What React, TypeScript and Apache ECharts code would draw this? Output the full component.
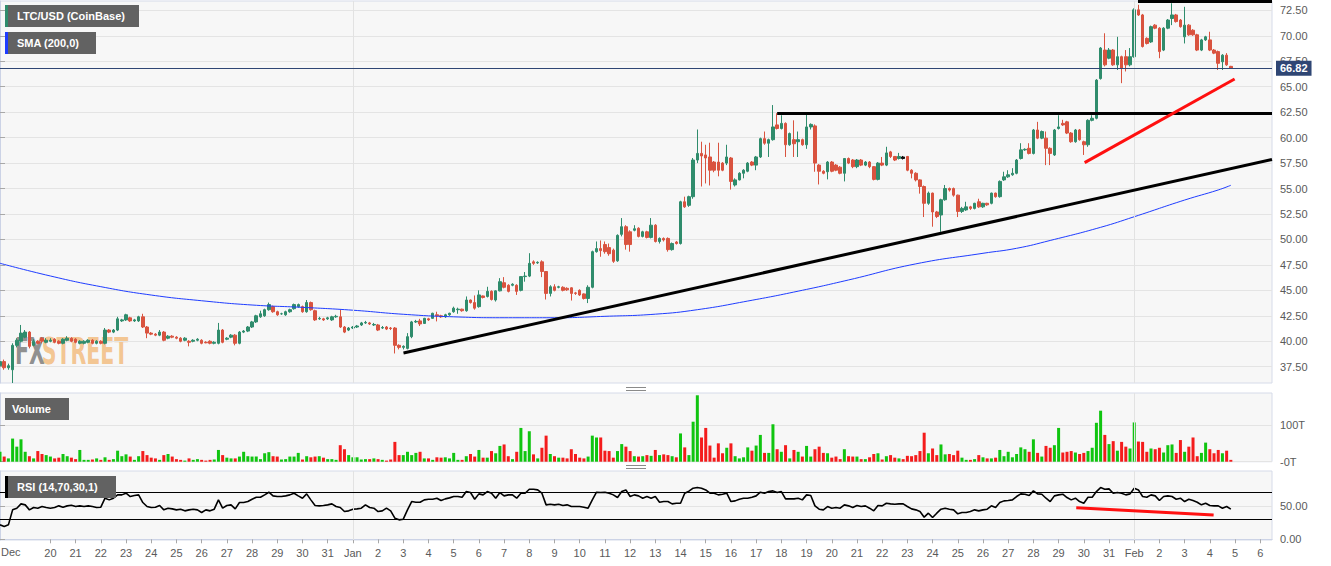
import { useEffect, useRef } from 'react';
import * as echarts from 'echarts';

// ---------- axis ticks / labels ----------
const PRICE_TICKS = [37.5, 40, 42.5, 45, 47.5, 50, 52.5, 55, 57.5, 60, 62.5, 65, 67.5, 70, 72.5];
const VOLUME_TICKS = [0, 100];
const RSI_TICKS = [0, 50];
const RSI_LEVELS = [70, 30];
// day labels from Dec 20 (index 12, one day = 6 four-hour candles)
const X_LABELS = [
  '20', '21', '22', '23', '24', '25', '26', '27', '28', '29', '30', '31',
  'Jan', '2', '3', '4', '5', '6', '7', '8', '9', '10', '11', '12', '13', '14', '15', '16', '17', '18', '19', '20',
  '21', '22', '23', '24', '25', '26', '27', '28', '29', '30', '31',
  'Feb', '2', '3', '4', '5', '6',
];
const FIRST_LABEL_INDEX = 12;
const CANDLES_PER_DAY = 6;
const MONTH_STARTS = [84, 270];
const LAST_PRICE = 66.82;
const DOJI_INDEX = 215;

// ---------- 4h candles: [open, close, low, high] ----------
const OHLC: number[][] = [
  [37.6, 38.0, 37.3, 38.3], [38.0, 37.4, 37.2, 38.2], [37.4, 37.6, 37.2, 37.8], [37.2, 39.6, 35.9, 39.8],
  [39.6, 40.1, 39.4, 40.3], [40.0, 40.8, 39.9, 41.6], [40.4, 40.9, 40.3, 41.1], [40.9, 39.5, 39.3, 41.0],
  [39.6, 40.0, 39.5, 40.2], [40.0, 39.8, 39.7, 40.1], [40.3, 40.0, 39.8, 40.4], [39.9, 40.1, 39.8, 40.3],
  [40.0, 40.1, 39.9, 40.3], [40.2, 39.9, 39.8, 40.3], [40.0, 39.8, 39.7, 40.1], [39.8, 40.2, 39.7, 40.3],
  [40.1, 40.3, 40.0, 40.5], [40.3, 40.0, 39.9, 40.4], [40.2, 39.9, 39.8, 40.3], [39.8, 40.0, 39.7, 40.1],
  [39.8, 40.0, 39.7, 40.1], [39.9, 40.1, 39.8, 40.2], [40.1, 39.8, 39.7, 40.2], [39.8, 40.0, 39.7, 40.1],
  [40.0, 39.8, 39.7, 40.1], [39.8, 41.1, 39.7, 41.3], [41.1, 40.9, 40.8, 41.2], [40.9, 41.1, 40.8, 41.2],
  [41.1, 42.2, 41.0, 42.4], [42.0, 42.1, 41.9, 42.2], [42.1, 42.6, 42.0, 42.7], [42.3, 42.0, 41.9, 42.4],
  [42.0, 42.1, 41.9, 42.2], [42.0, 42.4, 41.9, 42.5], [42.4, 41.4, 41.3, 42.7], [41.4, 40.8, 40.3, 41.5],
  [40.8, 40.7, 40.6, 40.9], [40.7, 40.6, 40.5, 40.8], [40.6, 40.9, 40.5, 41.1], [40.9, 40.1, 40.0, 41.0],
  [40.3, 40.5, 40.2, 40.6], [40.5, 40.4, 40.3, 40.6], [40.4, 40.3, 40.2, 40.5], [40.3, 40.0, 39.9, 40.4],
  [40.1, 40.3, 40.0, 40.4], [40.0, 39.9, 39.5, 40.1], [40.0, 40.1, 39.9, 40.2], [40.1, 40.2, 40.0, 40.3],
  [40.1, 39.8, 39.7, 40.2], [39.9, 39.85, 39.8, 40.0], [40.0, 39.8, 39.7, 40.1], [39.8, 39.9, 39.7, 40.0],
  [39.8, 41.1, 39.7, 41.8], [41.1, 39.9, 39.8, 41.2], [40.2, 40.3, 40.1, 40.4], [40.4, 40.6, 40.3, 40.7],
  [40.6, 39.8, 39.6, 40.7], [39.8, 40.9, 39.7, 41.0], [40.9, 41.0, 40.8, 41.1], [41.0, 41.4, 40.9, 41.5],
  [41.4, 41.9, 41.3, 42.0], [41.9, 42.5, 41.8, 42.6], [42.4, 42.7, 42.3, 43.0], [42.5, 43.1, 42.4, 43.2],
  [43.1, 43.6, 43.0, 43.8], [43.4, 42.9, 42.8, 43.5], [42.9, 42.6, 42.5, 43.0], [42.7, 42.7, 42.6, 42.8],
  [42.6, 42.9, 42.5, 43.0], [42.9, 43.1, 42.8, 43.2], [43.2, 43.6, 43.1, 43.7], [43.4, 43.6, 43.3, 43.7],
  [43.4, 42.9, 42.8, 43.5], [42.9, 43.8, 42.8, 44.05], [43.8, 43.1, 43.0, 43.9], [43.0, 42.1, 42.0, 43.1],
  [42.2, 42.25, 42.1, 42.4], [42.2, 42.1, 42.0, 42.3], [42.2, 42.3, 42.1, 42.4], [42.1, 42.4, 42.0, 42.5],
  [42.4, 42.45, 42.3, 42.6], [42.4, 41.4, 41.3, 43.1], [41.4, 40.9, 40.8, 41.5], [41.1, 41.3, 41.0, 41.4],
  [41.3, 41.4, 41.2, 41.5], [41.4, 41.5, 41.3, 41.6], [41.6, 41.8, 41.5, 41.9], [41.8, 41.85, 41.7, 42.0],
  [41.8, 41.7, 41.6, 41.9], [41.6, 41.65, 41.5, 41.8], [41.6, 41.1, 41.0, 41.7], [41.3, 41.35, 41.2, 41.5],
  [41.4, 41.2, 41.1, 41.5], [41.3, 41.25, 41.1, 41.4], [41.3, 39.6, 38.8, 41.4], [39.6, 39.4, 39.2, 39.7],
  [39.4, 39.5, 39.2, 39.6], [39.3, 40.45, 39.2, 40.8], [40.45, 41.9, 40.3, 42.0], [41.9, 41.95, 41.8, 42.1],
  [42.0, 41.7, 41.5, 42.2], [41.75, 42.25, 41.7, 42.3], [42.2, 42.1, 42.0, 42.3], [42.25, 42.75, 42.2, 42.8],
  [42.6, 42.5, 41.95, 42.9], [42.5, 42.4, 42.3, 42.6], [42.4, 42.6, 42.3, 42.7], [42.6, 42.75, 42.5, 42.8],
  [42.9, 43.25, 42.8, 43.4], [43.1, 43.15, 42.7, 43.3], [43.15, 43.0, 42.9, 43.2], [43.0, 44.05, 42.9, 44.4],
  [44.05, 43.8, 43.7, 44.1], [43.8, 43.25, 43.1, 44.5], [43.4, 44.55, 43.3, 45.0], [44.45, 44.3, 44.2, 44.5],
  [44.4, 44.9, 44.3, 45.35], [44.9, 44.1, 44.0, 45.0], [44.05, 44.95, 43.9, 45.0], [44.95, 45.85, 44.9, 46.2],
  [45.75, 45.3, 45.2, 46.3], [45.5, 44.9, 44.8, 45.6], [45.5, 45.6, 45.4, 45.7], [45.5, 44.9, 44.55, 45.6],
  [45.0, 46.35, 44.9, 46.4], [46.35, 46.4, 45.85, 46.8], [46.4, 47.65, 46.3, 48.65], [47.8, 47.65, 47.5, 47.95],
  [47.7, 47.75, 47.6, 47.85], [47.8, 46.85, 46.3, 47.95], [46.85, 44.7, 44.1, 46.9], [44.7, 45.35, 44.4, 45.5],
  [45.35, 45.0, 44.9, 45.6], [45.3, 45.35, 45.2, 45.45], [45.3, 45.0, 44.9, 45.4], [45.2, 45.05, 44.95, 45.3],
  [45.25, 44.7, 44.0, 45.3], [44.75, 44.7, 44.55, 44.85], [45.0, 44.55, 44.45, 45.1], [44.65, 44.2, 44.1, 44.7],
  [44.2, 45.3, 43.75, 45.5], [45.3, 48.8, 45.2, 48.9], [48.8, 49.1, 48.7, 49.8], [49.1, 48.9, 48.3, 49.9],
  [49.5, 48.8, 48.6, 49.8], [49.2, 48.6, 48.4, 49.6], [48.95, 47.85, 47.7, 49.1], [47.9, 50.4, 47.8, 50.5],
  [50.5, 51.25, 50.3, 52.1], [51.25, 49.5, 49.0, 51.4], [50.75, 49.5, 48.8, 50.9], [50.9, 51.05, 50.8, 51.4],
  [51.1, 50.3, 50.2, 51.2], [50.3, 50.75, 50.2, 50.85], [50.75, 50.2, 50.1, 50.85], [50.2, 51.4, 50.1, 52.1],
  [51.4, 49.8, 49.7, 51.5], [49.8, 50.1, 49.6, 50.2], [50.1, 49.95, 49.8, 50.2], [50.1, 49.0, 48.8, 50.2],
  [49.0, 49.6, 48.9, 49.7], [49.75, 49.6, 49.5, 49.85], [49.6, 53.7, 49.5, 53.8], [53.7, 53.2, 53.1, 54.2],
  [53.35, 54.2, 53.2, 54.3], [54.2, 57.8, 54.0, 58.0], [57.8, 58.45, 57.5, 60.8], [58.45, 58.2, 55.2, 59.6],
  [58.3, 58.0, 55.5, 59.3], [58.1, 56.8, 55.3, 59.5], [57.6, 56.8, 56.6, 57.7], [57.6, 56.8, 56.2, 59.5],
  [57.5, 56.8, 56.7, 57.6], [57.5, 58.1, 57.3, 59.3], [58.0, 55.7, 54.9, 58.1], [55.35, 55.85, 55.2, 56.0],
  [55.85, 56.5, 55.8, 56.6], [56.5, 56.8, 56.0, 56.9], [56.7, 57.5, 56.6, 57.6], [57.6, 57.3, 57.2, 57.7],
  [57.3, 58.1, 56.8, 58.2], [58.1, 59.9, 58.0, 60.0], [59.9, 59.45, 59.3, 60.6], [59.45, 59.8, 58.1, 59.9],
  [59.8, 61.05, 59.7, 63.2], [61.25, 60.9, 60.8, 62.4], [60.9, 61.4, 60.8, 62.2], [61.4, 59.3, 58.1, 61.5],
  [59.3, 60.4, 59.2, 60.5], [59.8, 59.4, 58.1, 61.7], [59.6, 59.8, 58.1, 60.6], [59.8, 59.3, 59.2, 59.9],
  [59.3, 61.05, 58.9, 62.4], [61.05, 61.3, 60.8, 61.4], [61.15, 57.5, 56.65, 61.3], [57.3, 56.7, 55.4, 57.4],
  [56.7, 56.5, 56.4, 56.8], [56.65, 57.6, 55.9, 57.7], [57.6, 56.7, 56.6, 57.7], [57.3, 56.8, 56.7, 57.4],
  [57.1, 56.5, 56.4, 57.2], [56.5, 57.95, 55.7, 58.0], [57.95, 57.5, 57.4, 58.05], [57.8, 57.15, 57.0, 57.9],
  [57.15, 57.8, 57.0, 57.9], [57.8, 57.3, 57.2, 57.9], [57.3, 57.6, 57.2, 57.7], [57.6, 57.15, 57.0, 57.7],
  [57.15, 55.9, 55.8, 57.2], [55.9, 57.5, 55.8, 57.6], [57.5, 57.3, 57.2, 58.1], [57.3, 58.5, 57.2, 59.1],
  [58.6, 58.15, 58.0, 58.7], [58.15, 57.8, 57.7, 58.2], [57.95, 58.15, 57.85, 58.5], [58.1, 57.95, 57.85, 58.2],
  [58.15, 56.8, 56.7, 58.2], [56.8, 56.5, 56.0, 56.9], [56.5, 55.85, 55.7, 56.6], [55.85, 55.2, 54.5, 55.9],
  [55.2, 53.55, 52.2, 55.3], [53.55, 54.55, 53.4, 54.7], [54.55, 52.7, 51.25, 54.6], [52.7, 52.25, 52.1, 52.8],
  [52.4, 53.9, 50.75, 54.0], [53.9, 55.0, 53.8, 55.35], [55.0, 54.85, 54.7, 55.1], [55.0, 54.35, 54.2, 55.1],
  [54.35, 52.75, 52.2, 54.4], [52.75, 53.05, 52.6, 53.2], [52.9, 53.2, 52.8, 53.7], [53.2, 53.05, 52.9, 53.3],
  [53.05, 53.55, 52.95, 53.6], [53.7, 53.2, 53.1, 54.0], [53.2, 53.55, 53.1, 53.6], [53.55, 53.4, 53.3, 53.6],
  [53.55, 54.55, 53.45, 54.6], [54.55, 54.2, 54.1, 54.6], [54.2, 55.7, 54.1, 55.8], [55.85, 56.15, 55.75, 56.65],
  [56.15, 56.35, 56.05, 56.8], [56.35, 56.5, 56.25, 57.0], [56.5, 57.8, 56.4, 57.9], [57.95, 58.8, 57.85, 59.45],
  [58.8, 58.85, 58.7, 58.95], [58.95, 58.45, 58.35, 59.45], [58.45, 60.75, 58.35, 60.85], [60.75, 59.95, 59.85, 61.55],
  [59.95, 60.6, 59.85, 60.7], [59.95, 58.95, 57.3, 60.6], [58.95, 58.45, 57.3, 59.05], [58.3, 60.75, 58.2, 60.85],
  [60.9, 61.05, 60.8, 62.2], [61.4, 61.25, 61.15, 61.75], [61.55, 60.45, 60.35, 61.65], [60.45, 59.6, 59.5, 60.55],
  [59.6, 60.75, 59.5, 60.85], [60.75, 59.8, 59.7, 60.85], [59.6, 59.3, 58.3, 59.7], [59.3, 61.7, 59.1, 61.8],
  [61.7, 61.9, 61.6, 62.2], [61.9, 65.65, 61.8, 65.75], [65.8, 68.8, 65.7, 68.9], [68.6, 67.15, 67.0, 70.25],
  [67.8, 68.6, 67.7, 68.8], [68.6, 67.15, 67.05, 68.7], [67.15, 67.95, 66.65, 69.9], [67.95, 66.8, 65.35, 68.05],
  [67.95, 67.15, 66.5, 68.6], [67.15, 67.95, 67.0, 68.8], [67.95, 72.55, 67.85, 72.7], [72.55, 72.05, 71.95, 73.05],
  [72.05, 68.95, 68.85, 72.15], [69.75, 69.25, 69.15, 69.85], [69.4, 70.9, 69.3, 71.0], [71.05, 70.75, 70.65, 71.15],
  [70.75, 68.45, 67.8, 70.85], [68.6, 70.75, 68.5, 70.85], [70.75, 71.55, 70.65, 71.65], [71.7, 72.05, 71.05, 73.2],
  [72.05, 71.4, 71.3, 72.15], [71.55, 70.9, 70.8, 71.65], [69.9, 71.05, 69.25, 72.85], [71.05, 70.1, 70.0, 71.15],
  [70.55, 70.1, 70.0, 70.65], [70.1, 68.6, 68.5, 70.2], [68.6, 69.6, 68.5, 69.7], [69.6, 69.9, 69.5, 70.0],
  [69.6, 68.6, 68.5, 70.4], [68.6, 68.3, 68.2, 68.7], [68.45, 67.3, 66.65, 68.55], [67.45, 68.1, 66.65, 68.2],
  [68.1, 67.15, 67.05, 68.3], [67.0, 66.82, 66.75, 67.05],
];

// ---------- volume (thousands, "T") ----------
const VOLUME: number[] = [
  27, 14, 9, 63, 41, 61, 27, 15, 9, 29, 21, 18, 14, 9, 11, 21, 15, 11, 7, 32,
  5, 5, 6, 9, 5, 12, 5, 7, 30, 15, 20, 14, 5, 15, 29, 18, 11, 9, 5, 18,
  21, 14, 7, 5, 3, 9, 5, 7, 5, 3, 5, 6, 32, 18, 11, 9, 9, 14, 27, 15,
  14, 14, 7, 23, 26, 15, 14, 6, 7, 14, 14, 24, 6, 15, 12, 14, 15, 11, 7, 7,
  5, 45, 34, 18, 12, 12, 6, 7, 7, 9, 7, 5, 3, 6, 54, 18, 18, 27, 18, 24,
  27, 9, 9, 5, 12, 11, 12, 9, 24, 5, 5, 15, 21, 14, 32, 11, 11, 29, 23, 43,
  47, 15, 7, 27, 92, 29, 83, 20, 9, 38, 71, 21, 15, 11, 11, 9, 34, 21, 11, 9,
  14, 71, 66, 66, 30, 29, 11, 29, 48, 41, 29, 15, 14, 15, 18, 16, 32, 18, 20, 18,
  15, 12, 77, 39, 18, 109, 181, 66, 92, 44, 11, 50, 23, 38, 50, 15, 9, 12, 39, 30,
  44, 73, 24, 24, 102, 34, 27, 45, 9, 32, 27, 14, 43, 14, 34, 41, 24, 23, 11, 14,
  7, 34, 15, 14, 14, 7, 7, 12, 21, 23, 6, 15, 18, 11, 9, 7, 16, 15, 18, 29,
  79, 23, 36, 18, 47, 20, 21, 18, 30, 11, 5, 5, 7, 18, 12, 9, 9, 11, 32, 15,
  27, 12, 21, 39, 34, 27, 61, 24, 14, 43, 38, 45, 92, 25, 27, 29, 25, 21, 24, 29,
  38, 106, 139, 73, 48, 56, 30, 54, 41, 36, 107, 55, 54, 27, 36, 34, 38, 25, 45, 47,
  24, 59, 27, 41, 66, 15, 24, 52, 34, 23, 32, 23, 30, 5,
];

// ---------- RSI (14) ----------
const RSI: number[] = [
  21.7, 19.2, 21.7, 44.2, 46.7, 53.2, 51.7, 44.2, 47.7, 46.7, 49.2, 47.7, 46.7, 47.7, 50.2, 48.2, 50.2, 51.2, 49.2, 50.2,
  49.2, 50.2, 49.2, 47.7, 48.2, 61.7, 59.2, 61.7, 66.7, 66.7, 69.2, 64.2, 65.7, 66.7, 55.2, 49.2, 47.7, 48.2, 50.7, 44.2,
  46.7, 45.7, 44.2, 45.2, 42.7, 44.2, 45.2, 44.2, 40.2, 44.2, 42.7, 45.2, 59.2, 46.7, 50.7, 51.7, 45.7, 55.2, 55.2, 56.7,
  60.2, 63.2, 63.2, 66.7, 70.7, 65.2, 64.2, 64.2, 65.2, 66.7, 69.2, 65.2, 61.7, 68.2, 59.2, 50.7, 50.2, 50.7, 51.7, 53.2,
  49.2, 47.7, 41.7, 42.7, 45.2, 45.7, 46.7, 51.7, 47.7, 46.7, 41.7, 42.7, 46.7, 42.7, 31.7, 29.2, 30.2, 44.2, 56.7, 55.7,
  55.7, 59.2, 60.2, 60.2, 61.7, 58.2, 60.7, 62.2, 64.2, 64.2, 63.2, 71.7, 70.2, 60.2, 68.2, 66.7, 71.7, 69.2, 61.7, 70.2,
  65.2, 66.7, 66.7, 61.7, 69.2, 69.2, 75.2, 75.2, 74.2, 69.2, 51.7, 52.7, 51.7, 52.7, 50.7, 51.7, 49.2, 49.2, 49.2, 48.2,
  46.7, 59.2, 70.7, 70.2, 70.7, 69.2, 66.7, 62.7, 71.7, 74.2, 64.2, 66.7, 65.2, 61.7, 64.2, 61.7, 64.2, 55.7, 56.7, 56.7,
  53.2, 54.2, 54.2, 69.2, 72.2, 76.7, 77.7, 76.7, 74.2, 69.2, 69.2, 66.7, 67.7, 69.2, 56.7, 57.7, 60.2, 61.7, 61.7, 63.2,
  65.2, 70.7, 69.2, 71.7, 72.7, 70.2, 71.7, 60.7, 60.7, 60.7, 61.7, 59.2, 66.7, 65.7, 50.2, 45.2, 44.2, 49.2, 46.7, 47.7,
  46.7, 51.7, 50.2, 47.7, 50.7, 49.2, 50.2, 46.7, 42.7, 50.7, 50.2, 54.2, 53.2, 52.7, 53.2, 53.2, 49.2, 45.7, 44.2, 41.7,
  33.2, 39.2, 32.7, 39.2, 45.2, 46.7, 45.2, 44.2, 38.2, 40.2, 40.2, 41.7, 44.2, 42.7, 44.2, 45.2, 50.2, 47.7, 55.2, 57.7,
  58.2, 59.2, 64.2, 68.2, 67.7, 65.7, 72.7, 68.2, 67.7, 61.7, 56.7, 65.2, 66.7, 67.7, 62.7, 59.2, 61.7, 56.7, 54.2, 63.2,
  63.2, 71.7, 77.7, 75.2, 75.7, 69.2, 70.2, 69.2, 66.7, 68.2, 76.7, 74.2, 64.2, 63.2, 66.7, 65.2, 58.2, 64.2, 65.2, 64.2,
  60.2, 61.7, 56.7, 60.2, 58.2, 55.7, 51.7, 54.2, 50.7, 50.2, 50.2, 46.7, 49.2, 45.2,
];

// ---------- SMA(200) read at roughly two-day steps: [candle index, value] ----------
const SMA: number[][] = [
  [0, 47.66], [12, 46.41], [24, 45.36], [36, 44.54], [48, 43.98], [60, 43.56], [72, 43.33], [84, 43.05],
  [96, 42.65], [108, 42.4], [120, 42.31], [132, 42.31], [144, 42.45], [156, 42.66], [166, 43.1], [178, 43.95],
  [190, 44.92], [202, 46.02], [218, 47.6], [234, 48.64], [242, 49.13], [250, 49.9], [262, 51.19],
  [270, 52.23], [282, 53.87], [290, 54.86], [293, 55.32],
];

// ---------- hand-drawn trend lines: [candle index, value] ----------
const SUPPORT_LINE = [[96.05, 38.85], [302.8, 57.85]];
const RESISTANCE_LINE = [[185, 62.38], [302.8, 62.38]];
const TOP_LINE = [[270.9, 73.37], [302.8, 73.37]];
const PRICE_RISE_LINE = [[258.2, 57.54], [293.9, 65.76]];
const RSI_FALL_LINE = [[256.2, 47.4], [288.9, 36.5]];

const FONT = "'Liberation Sans', Arial, sans-serif";
const UP = '#2f8c6c';
const DOWN = '#d9533f';
const VOL_UP = '#10c510';
const VOL_DOWN = '#f41c1c';
const GRID_LINE = '#e4e4e4';
const AXIS_LINE = '#ccd3e6';
const X_MAX = 302.8;

export default function App() {
  const ref = useRef<HTMLDivElement>(null);

  useEffect(() => {
    document.body.style.margin = '0';
    if (!ref.current) return;
    const chart = echarts.init(ref.current, undefined, { renderer: 'svg' });

    const xTickValues = X_LABELS.map((_, k) => FIRST_LABEL_INDEX + k * CANDLES_PER_DAY);
    const candleData = OHLC.map((c, i) =>
      i === DOJI_INDEX
        ? { value: [i, c[0], c[1], c[2], c[3]], itemStyle: { color: '#111', color0: '#111', borderColor: '#111', borderColor0: '#111' } }
        : [i, c[0], c[1], c[2], c[3]]
    );
    const monthLines = (xi: number, yi: number) => ({
      type: 'line', xAxisIndex: xi, yAxisIndex: yi, data: [], z: 1, silent: true,
      markLine: {
        silent: true, symbol: 'none', animation: false,
        label: { show: false },
        lineStyle: { color: '#e2e2e2', width: 1, type: 'solid' },
        data: MONTH_STARTS.map((m) => ({ xAxis: m })),
      },
    });
    const trend = (data: number[][], color: string, xi = 0, yi = 0) => ({
      type: 'line', xAxisIndex: xi, yAxisIndex: yi, data, showSymbol: false, symbol: 'none', clip: false,
      lineStyle: { color, width: 3 }, z: 6, silent: true,
    });
    const gridBase = {
      left: 0, width: 1272, show: true, backgroundColor: '#f7f7f7',
      borderColor: '#d6dbe9', borderWidth: 1, containLabel: false, outerBoundsMode: 'none',
    };
    const hiddenX = (gi: number) => ({
      type: 'value', gridIndex: gi, min: 0, max: X_MAX,
      axisLine: { show: false }, axisTick: { show: false }, axisLabel: { show: false }, splitLine: { show: false },
    });
    const yAxisBase = (gi: number, min: number, max: number, ticks: number[], fmt: (v: number) => string) => ({
      type: 'value', gridIndex: gi, position: 'right', min, max,
      axisLine: { show: true, lineStyle: { color: AXIS_LINE } },
      axisTick: { show: true, length: 5, lineStyle: { color: '#a8a8a8' }, customValues: ticks },
      axisLabel: { show: true, customValues: ticks, formatter: fmt, color: '#5a5a5a', fontSize: 11, fontFamily: FONT, margin: 8 },
      splitLine: { show: true, lineStyle: { color: GRID_LINE, width: 1 } },
    });

    const option: any = {
      animation: false,
      backgroundColor: '#ffffff',
      grid: [
        { ...gridBase, top: 1, height: 382 },
        { ...gridBase, top: 393, height: 68.7 },
        { ...gridBase, top: 471, height: 69 },
      ],
      xAxis: [
        hiddenX(0),
        hiddenX(1),
        {
          type: 'value', gridIndex: 2, min: 0, max: X_MAX,
          axisLine: { show: true, lineStyle: { color: AXIS_LINE } },
          axisTick: { show: true, length: 4, lineStyle: { color: '#a8a8a8' }, customValues: xTickValues },
          axisLabel: {
            show: true, customValues: xTickValues, color: '#5a5a5a', fontSize: 11, fontFamily: FONT, margin: 7,
            formatter: (v: number) => X_LABELS[Math.round((v - FIRST_LABEL_INDEX) / CANDLES_PER_DAY)] ?? '',
          },
          splitLine: { show: false },
        },
      ],
      yAxis: [
        yAxisBase(0, 35.9, 73.42, PRICE_TICKS, (v: number) => v.toFixed(2)),
        yAxisBase(1, 0, 187.2, VOLUME_TICKS, (v: number) => (v === 0 ? '-0T' : `${v}T`)),
        yAxisBase(2, -1.05, 102.55, RSI_TICKS, (v: number) => v.toFixed(2)),
      ],
      series: [
        monthLines(0, 0),
        monthLines(1, 1),
        monthLines(2, 2),
        {
          type: 'candlestick', xAxisIndex: 0, yAxisIndex: 0, data: candleData, barWidth: 3, z: 3,
          itemStyle: { color: UP, color0: DOWN, borderColor: UP, borderColor0: DOWN, borderWidth: 1 },
          markLine: {
            silent: true, symbol: 'none', animation: false,
            lineStyle: { color: '#2f4674', width: 1, type: 'solid' },
            label: {
              show: true, position: 'end', distance: 4, formatter: LAST_PRICE.toFixed(2),
              backgroundColor: '#2f4674', color: '#ffffff', fontWeight: 'bold', fontSize: 11, fontFamily: FONT,
              padding: [2, 4, 2, 4],
            },
            data: [{ yAxis: LAST_PRICE }],
          },
        },
        {
          type: 'line', xAxisIndex: 0, yAxisIndex: 0, data: SMA, smooth: true, showSymbol: false, symbol: 'none',
          lineStyle: { color: '#1e3cff', width: 1 }, z: 4, silent: true,
        },
        trend(SUPPORT_LINE, '#000000'),
        trend(RESISTANCE_LINE, '#000000'),
        trend(TOP_LINE, '#000000'),
        trend(PRICE_RISE_LINE, '#ff1010'),
        {
          type: 'bar', xAxisIndex: 1, yAxisIndex: 1, barWidth: 3, z: 3, silent: true,
          data: VOLUME.map((v, i) => [i, v]),
          itemStyle: {
            color: (p: any) => (OHLC[p.dataIndex][1] >= OHLC[p.dataIndex][0] ? VOL_UP : VOL_DOWN),
          },
        },
        {
          type: 'line', xAxisIndex: 2, yAxisIndex: 2, data: RSI.map((v, i) => [i, v]), showSymbol: false,
          symbol: 'none', lineStyle: { color: '#000000', width: 1.6 }, z: 4, silent: true,
          markLine: {
            silent: true, symbol: 'none', animation: false, label: { show: false },
            lineStyle: { color: '#000000', width: 1, type: 'solid' },
            data: RSI_LEVELS.map((l) => ({ yAxis: l })),
          },
        },
        trend(RSI_FALL_LINE, '#ff1010', 2, 2),
      ],
      graphic: [
        // watermark
        {
          type: 'group', x: 15, y: 351.5, scaleX: 0.555, z: 1, silent: true,
          children: [
            { type: 'text', x: 0, y: 0, style: { text: 'FX', fill: 'rgba(110,110,110,0.75)', font: "bold 37px 'DejaVu Sans'", verticalAlign: 'middle' } },
            { type: 'text', x: 48, y: 0, style: { text: 'STREET', fill: 'rgba(240,155,60,0.55)', font: "bold 37px 'DejaVu Sans'", verticalAlign: 'middle' } },
          ],
        },
        // legend boxes
        { type: 'rect', shape: { x: 5, y: 5, width: 134, height: 22 }, style: { fill: '#626262' }, z: 100 },
        { type: 'rect', shape: { x: 5, y: 5, width: 3, height: 22 }, style: { fill: '#2f8c6c' }, z: 101 },
        { type: 'text', x: 17, y: 16, style: { text: 'LTC/USD (CoinBase)', fill: '#ffffff', font: `bold 11px ${FONT}`, verticalAlign: 'middle' }, z: 101 },
        { type: 'rect', shape: { x: 5, y: 32, width: 91, height: 22 }, style: { fill: '#626262' }, z: 100 },
        { type: 'rect', shape: { x: 5, y: 32, width: 3, height: 22 }, style: { fill: '#1e3cff' }, z: 101 },
        { type: 'text', x: 17, y: 43, style: { text: 'SMA (200,0)', fill: '#ffffff', font: `bold 11px ${FONT}`, verticalAlign: 'middle' }, z: 101 },
        { type: 'rect', shape: { x: 5, y: 398, width: 64, height: 22 }, style: { fill: '#626262' }, z: 100 },
        { type: 'text', x: 12, y: 409, style: { text: 'Volume', fill: '#ffffff', font: `bold 11px ${FONT}`, verticalAlign: 'middle' }, z: 101 },
        { type: 'rect', shape: { x: 5, y: 476, width: 111, height: 22 }, style: { fill: '#626262' }, z: 100 },
        { type: 'rect', shape: { x: 5, y: 476, width: 3, height: 22 }, style: { fill: '#000000' }, z: 101 },
        { type: 'text', x: 17, y: 487, style: { text: 'RSI (14,70,30,1)', fill: '#ffffff', font: `bold 11px ${FONT}`, verticalAlign: 'middle' }, z: 101 },
        // panel resize handles
        { type: 'line', shape: { x1: 626, y1: 387.5, x2: 646, y2: 387.5 }, style: { stroke: '#8a8a8a', lineWidth: 1 }, z: 100 },
        { type: 'line', shape: { x1: 626, y1: 390.5, x2: 646, y2: 390.5 }, style: { stroke: '#8a8a8a', lineWidth: 1 }, z: 100 },
        { type: 'line', shape: { x1: 626, y1: 465.5, x2: 646, y2: 465.5 }, style: { stroke: '#8a8a8a', lineWidth: 1 }, z: 100 },
        { type: 'line', shape: { x1: 626, y1: 468.5, x2: 646, y2: 468.5 }, style: { stroke: '#8a8a8a', lineWidth: 1 }, z: 100 },
        // first month label at the left edge
        { type: 'text', x: 1, y: 552, style: { text: 'Dec', fill: '#5a5a5a', font: `11px ${FONT}`, verticalAlign: 'middle' }, z: 100 },
      ],
    };

    chart.setOption(option);
    return () => chart.dispose();
  }, []);

  return <div ref={ref} style={{ width: 1331, height: 566 }} />;
}
